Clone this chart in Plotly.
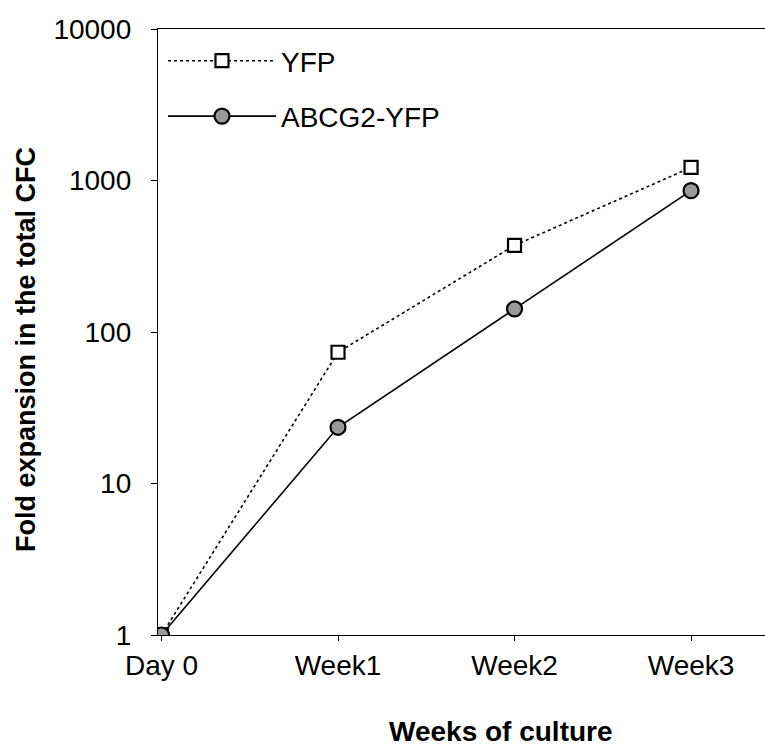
import plotly.graph_objects as go

# Culture time points and fold expansion in total CFC
time_points = ["Day 0", "Week1", "Week2", "Week3"]
yfp_fold = [1, 73.5, 373, 1220]
abcg2_yfp_fold = [1, 23.5, 142, 857]
y_tick_values = [1, 10, 100, 1000, 10000]
y_tick_labels = ["1", "10", "100", "1000", "10000"]

FONT = "Liberation Sans, Arial, sans-serif"
x_pos = list(range(len(time_points)))

fig = go.Figure()
fig.add_trace(go.Scatter(
    x=x_pos, y=yfp_fold, name="YFP", mode="lines+markers",
    line=dict(color="black", width=1.6, dash="dot"),
    marker=dict(symbol="square", size=13, color="white",
                line=dict(color="black", width=2.2)),
    legendgroup="a",
))
fig.add_trace(go.Scatter(
    x=x_pos, y=abcg2_yfp_fold, name="ABCG2-YFP", mode="lines+markers",
    line=dict(color="black", width=1.6),
    marker=dict(symbol="circle", size=15, color="#999999",
                line=dict(color="black", width=2.2)),
    legendgroup="b",
))

fig.update_layout(
    width=765, height=749,
    margin=dict(l=158, r=0, t=29, b=114),
    paper_bgcolor="white", plot_bgcolor="white",
    font=dict(family=FONT, size=28, color="black"),
    showlegend=True,
    legend=dict(x=5 / 607, y=1 - 7 / 606, xanchor="left", yanchor="top",
                bgcolor="rgba(0,0,0,0)", font=dict(size=28),
                itemwidth=108, tracegroupgap=16),
    xaxis=dict(
        range=[-0.0198, 3.419], tickmode="array", tickvals=x_pos,
        ticktext=time_points, ticks="outside", ticklen=5, tickwidth=1,
        tickcolor="black", showline=True, linecolor="black", linewidth=1.3,
        mirror=True, showgrid=False, zeroline=False,
        tickfont=dict(family=FONT, size=28),
    ),
    xaxis2=dict(
        range=[-0.0198, 3.419], tickmode="array", tickvals=x_pos,
        ticks="inside", ticklen=5, tickwidth=1, tickcolor="black",
        showticklabels=False, showline=False, showgrid=False,
        zeroline=False, overlaying="x", anchor="y", side="bottom",
    ),
    yaxis=dict(
        type="log", range=[0, 4], tickmode="array", tickvals=y_tick_values,
        ticktext=y_tick_labels, ticks="outside", ticklen=6, tickwidth=1,
        tickcolor="black", showline=True, linecolor="black", linewidth=1.3,
        showgrid=False, zeroline=False, ticklabelstandoff=14,
        tickfont=dict(family=FONT, size=28),
    ),
    annotations=[
        dict(text="<b>Weeks of culture</b>", xref="paper", yref="paper",
             x=(501 - 158) / 607, y=-(731 - 635) / 606,
             xanchor="center", yanchor="middle", showarrow=False,
             font=dict(family=FONT, size=28)),
        dict(text="<b>Fold expansion in the total CFC</b>", xref="paper",
             yref="paper", x=-(158 - 26) / 607, y=(635 - 350) / 606,
             xanchor="center", yanchor="middle", textangle=-90,
             showarrow=False, font=dict(family=FONT, size=27)),
    ],
)

fig.write_html("out.html")
